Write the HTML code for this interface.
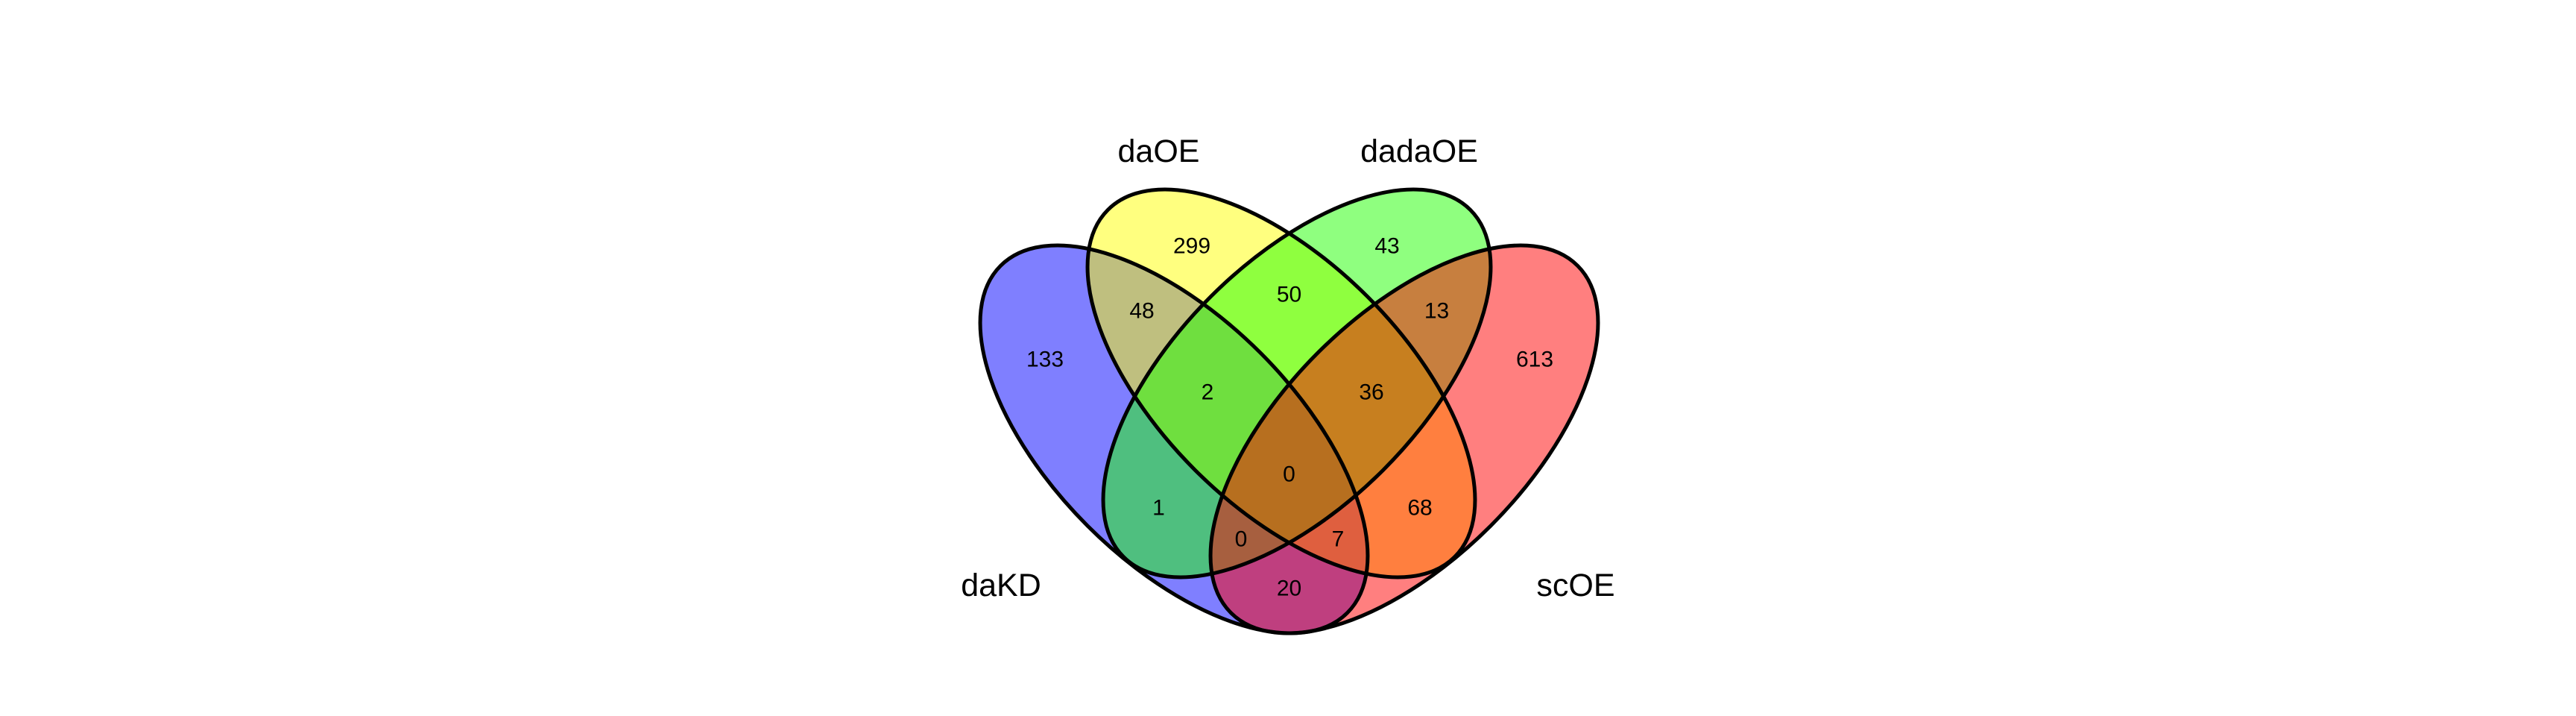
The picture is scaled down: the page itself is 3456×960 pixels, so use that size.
<!DOCTYPE html>
<html><head><meta charset="utf-8"><style>html,body{margin:0;padding:0;background:#fff;}svg{display:block}</style></head>
<body>
<svg width="3456" height="960" viewBox="0 0 3456 960" xmlns="http://www.w3.org/2000/svg">
<rect width="3456" height="960" fill="#fff"/>
<ellipse cx="1575" cy="589" rx="329" ry="164" transform="rotate(45 1575 589)" fill="#0000FF" fill-opacity="0.5"/>
<ellipse cx="1719" cy="514" rx="329" ry="164" transform="rotate(45 1719 514)" fill="#FFFF00" fill-opacity="0.5"/>
<ellipse cx="1740" cy="514" rx="329" ry="164" transform="rotate(-45 1740 514)" fill="#20FF00" fill-opacity="0.5"/>
<ellipse cx="1884" cy="589" rx="329" ry="164" transform="rotate(-45 1884 589)" fill="#FF0000" fill-opacity="0.5"/>
<g fill="none" stroke="#000" stroke-width="5">
<ellipse cx="1575" cy="589" rx="329" ry="164" transform="rotate(45 1575 589)"/>
<ellipse cx="1719" cy="514" rx="329" ry="164" transform="rotate(45 1719 514)"/>
<ellipse cx="1740" cy="514" rx="329" ry="164" transform="rotate(-45 1740 514)"/>
<ellipse cx="1884" cy="589" rx="329" ry="164" transform="rotate(-45 1884 589)"/>
</g>
<g font-family="Liberation Sans, Arial, sans-serif" font-size="30" fill="#000" text-anchor="middle" dominant-baseline="central">
<text x="1599" y="330">299</text>
<text x="1861" y="330">43</text>
<text x="1532" y="417">48</text>
<text x="1729.5" y="395">50</text>
<text x="1927.5" y="417">13</text>
<text x="1402" y="482">133</text>
<text x="2059" y="482">613</text>
<text x="1620" y="526">2</text>
<text x="1840" y="526">36</text>
<text x="1729.5" y="636">0</text>
<text x="1554.5" y="681">1</text>
<text x="1905" y="681">68</text>
<text x="1665" y="723">0</text>
<text x="1795" y="723">7</text>
<text x="1729.5" y="789">20</text>
</g>
<g font-family="Liberation Sans, Arial, sans-serif" font-size="43" fill="#000" text-anchor="middle" dominant-baseline="central">
<text x="1554.5" y="203">daOE</text>
<text x="1904" y="203">dadaOE</text>
<text x="1343" y="785">daKD</text>
<text x="2114" y="785">scOE</text>
</g>
</svg>
</body></html>
